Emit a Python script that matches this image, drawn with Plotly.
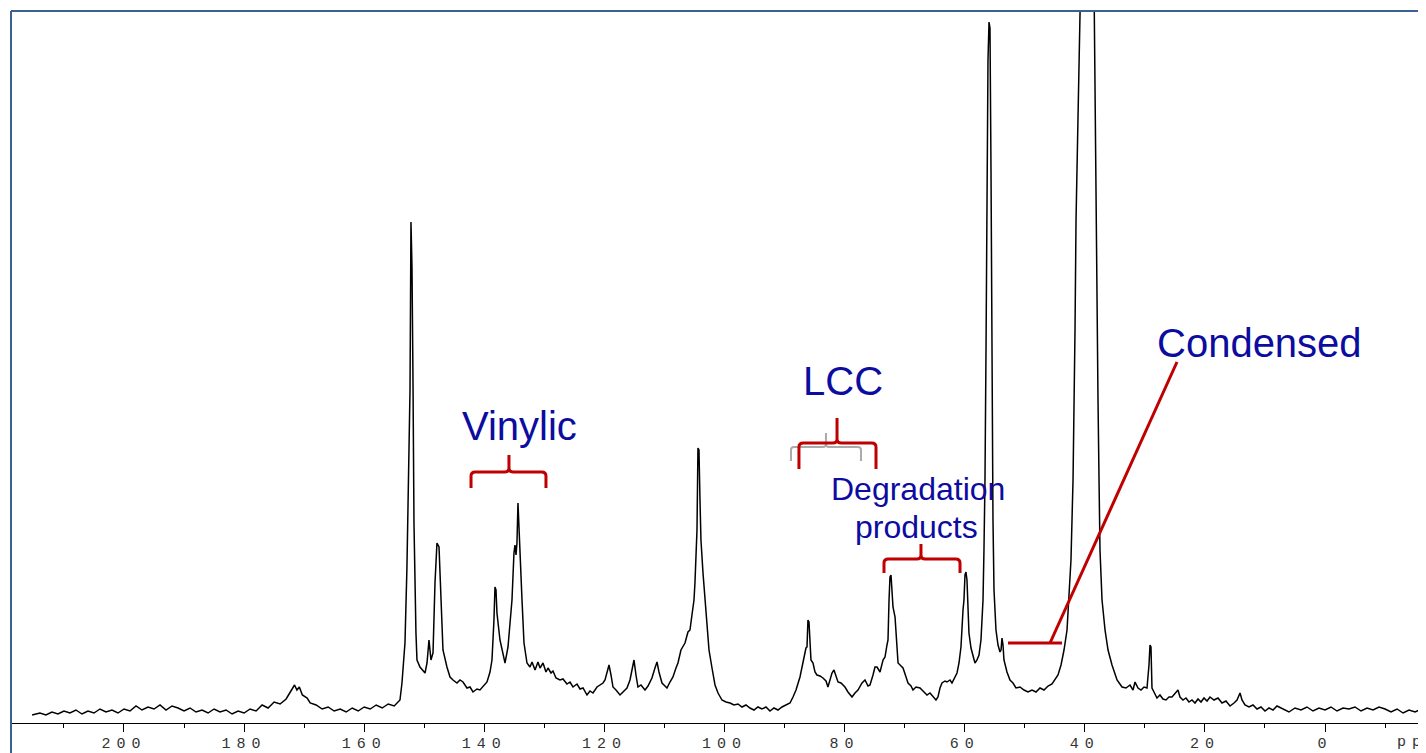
import plotly.graph_objects as go

# ---------------- data ----------------
shift_ppm = [
    215.3, 214, 213, 212, 211, 210, 209, 208, 207, 206, 205, 204, 203, 202, 201, 200,
    199, 198, 197, 196, 195, 194, 193, 192, 191, 190, 189, 188, 187, 186, 185, 184,
    183, 182, 181, 180, 179, 178, 177, 176, 175, 174, 173, 172.5, 172, 171.6, 171.2,
    170.8, 170.3, 169.5, 169, 168, 167, 166, 165, 164, 163, 162, 161, 160, 159, 158,
    157, 156, 155,
    154.04, 153.71, 153.21, 152.88, 152.71, 152.37, 152.21, 152.04, 151.87, 151.71,
    151.38, 151.21, 150.71, 150.21, 149.87, 149.54, 149.21, 148.88, 148.54, 148.21,
    147.88, 147.54, 147.21, 146.88, 146.22, 145.71, 145.21, 144.55, 144.05, 143.55,
    142.88, 142.38, 141.88, 141.22, 140.72, 140.05, 139.55, 139.05, 138.72, 138.39,
    138.22, 138.05, 137.89, 137.39, 136.89, 136.55, 136.05, 135.72, 135.39, 135.06,
    134.89, 134.72, 134.56, 134.39, 134.22, 134.06, 133.72, 133.39, 132.89, 132.39,
    132.05, 131.55, 131.06, 130.72, 130.22, 129.73, 129.39, 128.89, 128.56, 128.06,
    127.4, 126.9, 126.23, 125.73, 125.23, 124.56, 124.06, 123.56, 122.9, 122.4,
    121.9, 121.23, 120.73, 120.23, 119.9, 119.57, 119.23, 118.9, 118.57, 118.07,
    117.4, 116.9, 116.24, 115.74, 115.4, 115.07, 114.74, 114.41, 113.91, 113.24,
    112.74, 112.08, 111.58, 111.24, 110.91, 110.41, 109.91, 109.58, 109.08, 108.58,
    108.08, 107.75, 107.25, 106.58, 106.08, 105.75, 105.42, 105.08, 104.92, 104.75,
    104.58, 104.42, 104.25, 104.08, 103.92, 103.58, 103.25, 102.92, 102.58, 102.08,
    101.58, 101.08, 100.42, 99.75, 99.08, 98.42, 97.75, 97.09, 96.42, 95.76,
    95.09, 94.43, 93.76, 93.09, 92.43, 91.76, 91.09, 90.43, 89.76, 89.09,
    88.59, 88.09, 87.43, 86.93, 86.43, 86.26, 86.1, 85.93, 85.76, 85.6,
    85.26, 84.93, 84.6, 84.1, 83.6, 83.1, 82.77, 82.43, 82.1, 81.77,
    81.43, 81.1, 80.6, 79.94, 79.44, 78.77, 78.27, 77.77, 77.1, 76.6,
    76.1, 75.77, 75.27, 74.94, 74.6, 74.1, 73.6, 73.27, 72.94, 72.77,
    72.6, 72.44, 72.27, 72.1, 71.94, 71.6, 71.44, 71.1, 70.6, 70.27,
    69.77, 69.44, 68.94, 68.61, 68.11, 67.44, 66.94, 66.28, 65.78, 65.28,
    64.78, 64.45, 64.11, 63.78, 63.28, 62.95, 62.45, 62.12, 61.61, 61.28,
    60.95, 60.62, 60.28, 60.12, 59.95, 59.79, 59.62, 59.45, 59.29, 58.95,
    58.62, 58.29, 57.95, 57.62, 57.29, 56.95, 56.79, 56.62, 56.45, 56.29,
    56.12, 55.95, 55.79, 55.62, 55.45, 55.29, 55.12, 54.79, 54.45, 54.12,
    53.95, 53.79, 53.62, 53.46, 52.96, 52.46, 51.96, 51.46, 50.79, 50.12,
    49.46, 48.79, 48.12, 47.46, 46.79, 46.12, 45.46, 44.96, 44.46, 43.96,
    43.46, 42.96, 42.63, 42.3, 41.96, 41.8, 41.63, 41.46, 41.3, 41.13,
    40.97, 40.6, 39.7, 38.8, 38.47, 38.3, 38.13, 37.97, 37.8, 37.63,
    37.47, 37.13, 36.63, 36.13, 35.47, 34.63, 33.8, 33.14, 32.47, 31.97,
    31.64, 31.14, 30.64, 30.14, 29.64, 29.31, 29.14, 28.98, 28.81, 28.48,
    27.98, 27.48, 26.98, 26.48, 25.98, 25.48, 24.98, 24.48, 24.15, 23.65,
    23.15, 22.65, 22.15, 21.65, 21.15, 20.65, 20.15, 19.65, 19.15, 18.48,
    17.82, 17.15, 16.49, 15.82, 15.15, 14.65, 14.15, 13.82, 13.32, 12.65,
    11.99, 11.32, 10.66, 9.99, 9.32, 8.66, 7.99,
    7, 6, 5, 4, 3, 2, 1, 0, -1, -2, -3, -4, -5, -6, -7, -8, -9, -10, -11, -12,
    -13, -14, -15, -16, -17,
]

intensity = [
    8, 10, 8, 11, 9, 12, 10, 13, 9, 12, 10, 14, 11, 13, 10, 14,
    12, 17, 13, 16, 14, 18, 13, 17, 15, 12, 15, 11, 13, 10, 14, 11,
    13, 9, 12, 10, 14, 12, 18, 15, 21, 19, 24, 29, 34, 38, 33,
    36, 28, 25, 20, 18, 14, 16, 12, 14, 11, 15, 12, 16, 14, 18,
    15, 19, 17,
    23, 40, 80, 156, 230, 333, 501, 456, 340, 200,
    90, 63, 56, 53, 50, 60, 83, 63, 70, 140,
    180, 176, 123, 73, 56, 46, 43, 40, 43, 41,
    35, 36, 31, 34, 33, 37, 41, 51, 63, 103,
    136, 133, 110, 83, 68, 60, 76, 98, 123, 170,
    178, 168, 180, 220, 193, 163, 123, 80, 60, 56,
    61, 53, 61, 55, 60, 51, 55, 50, 52, 45,
    43, 44, 39, 41, 36, 39, 34, 35, 28, 32,
    30, 36, 38, 40, 43, 50, 58, 48, 36, 33,
    28, 31, 35, 43, 53, 63, 48, 36, 38, 33,
    37, 45, 55, 61, 51, 40, 37, 35, 41, 46,
    55, 60, 73, 80, 91, 93, 108, 123, 140, 163,
    193, 275, 273, 223, 183, 150, 123, 93, 73, 55,
    38, 30, 23, 21, 20, 18, 19, 16, 18, 15,
    13, 16, 14, 16, 12, 15, 13, 16, 18, 20,
    26, 33, 46, 60, 75, 76, 103, 101, 83, 63,
    60, 51, 48, 47, 45, 42, 36, 43, 50, 53,
    47, 41, 40, 36, 31, 26, 30, 33, 40, 43,
    37, 38, 48, 56, 56, 51, 63, 66, 78, 83,
    123, 146, 148, 133, 116, 106, 93, 60, 57, 55,
    46, 40, 37, 33, 36, 35, 32, 28, 30, 26,
    23, 26, 35, 40, 42, 41, 43, 40, 46, 50,
    60, 76, 113, 123, 148, 151, 143, 113, 90, 75,
    66, 60, 63, 68, 83, 123, 173, 243, 373, 523,
    663, 701, 695, 553, 343, 203, 133, 93, 78, 71,
    73, 85, 78, 63, 51, 43, 40, 35, 36, 33,
    31, 33, 31, 35, 33, 37, 39, 43, 48, 58,
    73, 93, 123, 163, 243, 303, 393, 503, 563, 643,
    718, 950, 1050, 950, 718, 623, 523, 423, 323, 243,
    173, 123, 93, 73, 58, 43, 36, 35, 38, 33,
    41, 35, 33, 36, 35, 58, 78, 76, 35, 31,
    25, 28, 24, 23, 26, 26, 30, 33, 26, 23,
    25, 21, 23, 20, 24, 21, 25, 22, 26, 23,
    25, 20, 22, 17, 20, 23, 30, 23, 18, 16,
    18, 14, 16, 12, 15, 13, 17,
    14, 11, 15, 13, 16, 12, 15, 13, 16, 12, 15, 14, 16, 12, 15, 13, 16, 14, 11, 14,
    10, 13, 11, 14, 12,
]

tick_values = [200, 180, 160, 140, 120, 100, 80, 60, 40, 20, 0]
tick_labels = ["200", "180", "160", "140", "120", "100", "80", "60", "40", "20", "0"]
minor_tick_values = [210, 190, 170, 150, 130, 110, 90, 70, 50, 30, 10, -10]
axis_unit = "ppm"

region_labels = ["Vinylic", "LCC", "Condensed", "Degradation", "products"]

# ---------------- styling / layout constants ----------------
X_RANGE = [218.65, -16.82]
Y_RANGE = [0, 713]
BLUE_TEXT = "#0C0CA0"
RED = "#C00000"
GRAY = "#AAAAAA"
FRAME = "#3A6094"
TICK_FONT = dict(family="Liberation Mono, Courier New, monospace", size=15, color="#333333")

fig = go.Figure()
fig.add_trace(go.Scatter(
    x=shift_ppm, y=intensity, mode="lines",
    line=dict(color="black", width=1.5), hoverinfo="skip",
))


def brace(xl, xr, xc, yh, ye, yt, rx=0.7, ry=4):
    """Curly-brace path in data coordinates (x reversed: xl > xr)."""
    return (
        f"M {xl},{ye} L {xl},{yh - ry} Q {xl},{yh} {xl - rx},{yh} "
        f"L {xc + rx},{yh} Q {xc},{yh} {xc},{yh + ry} L {xc},{yt} "
        f"M {xr},{ye} L {xr},{yh - ry} Q {xr},{yh} {xr + rx},{yh} "
        f"L {xc - rx},{yh} Q {xc},{yh} {xc},{yh + ry}"
    )


shapes = [
    # gray (faint) LCC brace behind the red one
    dict(type="path", xref="x", yref="y",
         path=brace(88.93, 77.27, 83.1, 276, 262, 290, rx=0.5, ry=3),
         line=dict(color=GRAY, width=2)),
    # Vinylic brace
    dict(type="path", xref="x", yref="y",
         path=brace(142.21, 129.73, 135.89, 251, 235, 268),
         line=dict(color=RED, width=3)),
    # LCC brace
    dict(type="path", xref="x", yref="y",
         path=brace(87.6, 74.77, 81.26, 280, 254, 305),
         line=dict(color=RED, width=3)),
    # Degradation products brace
    dict(type="path", xref="x", yref="y",
         path=brace(73.44, 60.78, 67.28, 164, 150, 179),
         line=dict(color=RED, width=3)),
    # Condensed pointer
    dict(type="line", xref="x", yref="y", x0=52.79, y0=80, x1=43.79, y1=80,
         line=dict(color=RED, width=3)),
    dict(type="line", xref="x", yref="y", x0=45.79, y0=80, x1=24.65, y1=361,
         line=dict(color=RED, width=3)),
    # blue picture frame (left and top)
    dict(type="line", xref="paper", yref="paper", x0=-0.0007, y0=-0.06, x1=-0.0007, y1=0.9986,
         line=dict(color=FRAME, width=2)),
    dict(type="line", xref="paper", yref="paper", x0=-0.0007, y0=0.9986, x1=1.01, y1=0.9986,
         line=dict(color=FRAME, width=2)),
]

annotations = [
    dict(x=134.22, y=297, text=region_labels[0], font=dict(size=40)),
    dict(x=80.27, y=342, text=region_labels[1], font=dict(size=40)),
    dict(x=10.99, y=380, text=region_labels[2], font=dict(size=40)),
    dict(x=67.78, y=234, text=region_labels[3], font=dict(size=32)),
    dict(x=67.95, y=196, text=region_labels[4], font=dict(size=32)),
]
for a in annotations:
    a.update(xref="x", yref="y", showarrow=False, xanchor="center", yanchor="middle")
    a["font"].update(family="Liberation Sans, Arial, sans-serif", color=BLUE_TEXT)

spaced = lambda t: f'<span style="letter-spacing:6px">{t}</span>'

annotations.append(dict(
    xref="paper", yref="paper", x=(1395 - 12) / 1414, y=-0.027,
    text=spaced(axis_unit), showarrow=False, xanchor="left", yanchor="middle",
    font=TICK_FONT,
))

# The HTML body has an 8px default margin, so the figure is sized to fit
# the 1426x753 window with its plot area at x 12..1426, y 10..723.
fig.update_layout(
    width=1418, height=745,
    margin=dict(l=4, r=0, t=2, b=30, autoexpand=False),
    paper_bgcolor="white", plot_bgcolor="white",
    showlegend=False,
    shapes=shapes, annotations=annotations,
    xaxis=dict(
        range=X_RANGE, tickmode="array", tickvals=tick_values,
        ticktext=[spaced(t) for t in tick_labels],
        ticks="outside", ticklen=8, tickwidth=1, tickcolor="black",
        ticklabelstandoff=-2, automargin=False,
        showline=True, linecolor="black", linewidth=1,
        showgrid=False, zeroline=False,
        tickfont=TICK_FONT,
        minor=dict(tickmode="array", tickvals=minor_tick_values, ticks="outside",
                   ticklen=4, tickwidth=1, tickcolor="black", showgrid=False),
    ),
    yaxis=dict(range=Y_RANGE, visible=False, fixedrange=True, automargin=False),
)

fig.write_html("out.html", config={"displayModeBar": False})
